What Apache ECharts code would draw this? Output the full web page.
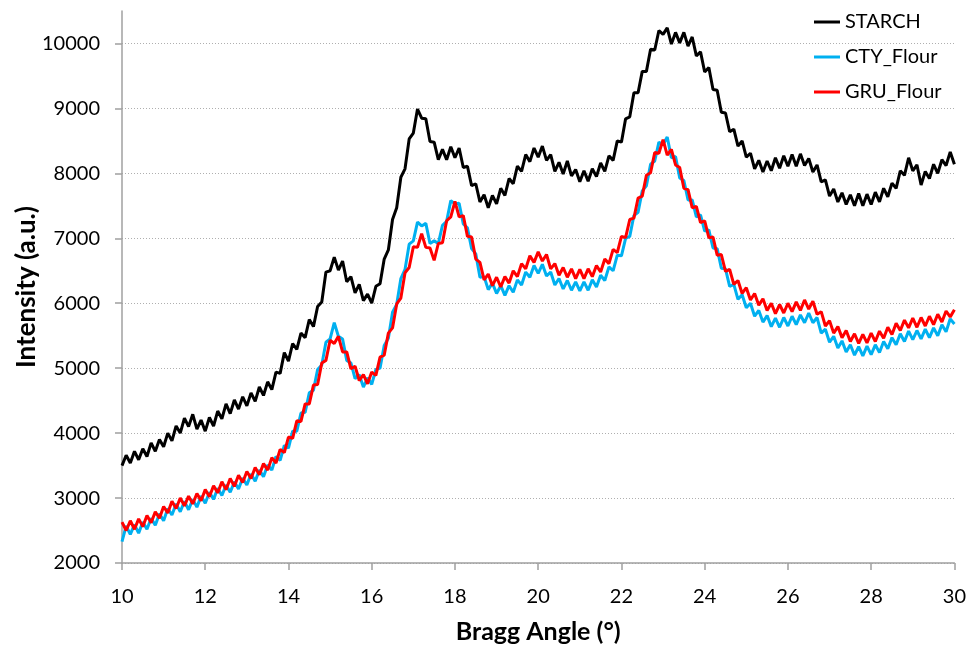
<!DOCTYPE html>
<html>
<head>
<meta charset="utf-8">
<title>XRD patterns</title>
<script src="https://cdn.jsdelivr.net/npm/echarts@6/dist/echarts.min.js"></script>
<style>
  html, body { margin: 0; padding: 0; background: #ffffff; }
  #chart { width: 969px; height: 649px; }
</style>
</head>
<body>
<div id="chart"></div>
<script>
// Diffraction angle grid (degrees 2θ), sampled every 0.1°
const angleStart = 10;
const angleStep = 0.1;

const seriesNames = ['STARCH', 'CTY_Flour', 'GRU_Flour'];

// Intensities (a.u.), one value per 0.1° from 10° to 30°
const starch = [
  3500, 3660, 3540, 3720, 3590, 3760, 3640, 3850, 3720, 3900,
  3790, 4000, 3880, 4110, 4000, 4230, 4100, 4290, 4060, 4200,
  4030, 4240, 4110, 4340, 4220, 4450, 4300, 4510, 4370, 4560,
  4420, 4620, 4490, 4710, 4580, 4790, 4670, 4940, 4920, 5240,
  5110, 5380, 5290, 5540, 5470, 5750, 5640, 5950, 6020, 6480,
  6500, 6710, 6510, 6650, 6330, 6410, 6160, 6290, 6040, 6140,
  6000, 6260, 6300, 6680, 6820, 7290, 7470, 7940, 8070, 8530,
  8620, 8990, 8850, 8840, 8490, 8480, 8210, 8370, 8210, 8410,
  8240, 8390, 8090, 8110, 7810, 7840, 7560, 7670, 7470, 7660,
  7530, 7770, 7660, 7920, 7840, 8110, 8030, 8290, 8180, 8390,
  8250, 8420, 8200, 8290, 8030, 8170, 7990, 8190, 7960, 8060,
  7870, 8040, 7880, 8070, 7950, 8160, 8030, 8270, 8200, 8500,
  8480, 8840, 8870, 9240, 9240, 9570, 9570, 9910, 9900, 10200,
  10140, 10240, 9990, 10170, 10010, 10170, 9960, 10100, 9810, 9870,
  9560, 9630, 9290, 9280, 8940, 8930, 8640, 8680, 8420, 8500,
  8250, 8310, 8070, 8200, 8020, 8190, 8040, 8240, 8080, 8270,
  8110, 8290, 8110, 8300, 8120, 8230, 8020, 8130, 7870, 7900,
  7650, 7760, 7560, 7700, 7520, 7670, 7500, 7690, 7500, 7680,
  7520, 7710, 7560, 7770, 7640, 7850, 7770, 8040, 7970, 8240,
  8040, 8130, 7820, 8030, 7920, 8140, 8000, 8210, 8120, 8330,
  8140
];

const ctyFlour = [
  2330, 2570, 2440, 2590, 2460, 2630, 2520, 2690, 2580, 2760,
  2650, 2840, 2740, 2910, 2790, 2950, 2820, 2980, 2860, 3030,
  2920, 3090, 2980, 3150, 3040, 3200, 3090, 3250, 3140, 3310,
  3200, 3370, 3260, 3430, 3330, 3510, 3430, 3640, 3580, 3810,
  3770, 4030, 4030, 4310, 4320, 4620, 4660, 4980, 5050, 5400,
  5450, 5700, 5490, 5450, 5120, 5080, 4840, 4900, 4710, 4850,
  4750, 4980, 5000, 5350, 5460, 5860, 5980, 6380, 6520, 6910,
  6960, 7250, 7190, 7230, 6920, 6960, 6920, 7200, 7260, 7580,
  7530, 7540, 7220, 7160, 6840, 6760, 6400, 6410, 6210, 6310,
  6150, 6270, 6120, 6270, 6170, 6360, 6280, 6480, 6400, 6580,
  6460, 6600, 6420, 6480, 6280, 6380, 6220, 6350, 6200, 6330,
  6190, 6330, 6200, 6360, 6250, 6430, 6350, 6560, 6500, 6740,
  6730, 7000, 7030, 7350, 7400, 7730, 7810, 8140, 8190, 8480,
  8440, 8560, 8240, 8260, 7930, 7890, 7590, 7590, 7330, 7360,
  7110, 7130, 6850, 6840, 6540, 6530, 6260, 6290, 6060, 6130,
  5930, 6000, 5800, 5890, 5710, 5810, 5640, 5770, 5630, 5780,
  5650, 5800, 5670, 5820, 5700, 5850, 5700, 5780, 5540, 5600,
  5400, 5490, 5310, 5420, 5250, 5360, 5200, 5330, 5190, 5340,
  5210, 5360, 5240, 5410, 5300, 5470, 5360, 5530, 5410, 5570,
  5440, 5580, 5450, 5600, 5470, 5620, 5500, 5670, 5560, 5760,
  5680
];

const gruFlour = [
  2630, 2500, 2650, 2520, 2680, 2560, 2730, 2620, 2790, 2690,
  2870, 2770, 2950, 2840, 3000, 2880, 3030, 2910, 3070, 2960,
  3130, 3020, 3190, 3080, 3250, 3130, 3300, 3180, 3350, 3240,
  3410, 3300, 3470, 3360, 3530, 3430, 3620, 3540, 3750, 3700,
  3940, 3920, 4190, 4180, 4450, 4450, 4740, 4750, 5080, 5120,
  5430, 5380, 5490, 5250, 5250, 4990, 5030, 4810, 4900, 4760,
  4940, 4890, 5170, 5200, 5540, 5620, 5990, 6080, 6470, 6550,
  6870, 6860, 7070, 6860, 6850, 6660, 6920, 6930, 7270, 7330,
  7570, 7330, 7350, 7030, 7020, 6680, 6630, 6360, 6450, 6270,
  6400, 6250, 6410, 6310, 6500, 6410, 6610, 6530, 6730, 6630,
  6790, 6650, 6750, 6530, 6610, 6430, 6550, 6400, 6530, 6380,
  6520, 6380, 6530, 6410, 6580, 6480, 6680, 6610, 6830, 6780,
  7030, 7010, 7290, 7310, 7620, 7650, 7970, 8010, 8320, 8310,
  8520, 8280, 8370, 8130, 8090, 7770, 7750, 7470, 7490, 7240,
  7270, 7010, 7020, 6740, 6750, 6490, 6520, 6290, 6350, 6150,
  6240, 6050, 6150, 5970, 6070, 5890, 6000, 5840, 5980, 5850,
  6000, 5870, 6020, 5890, 6050, 5910, 6030, 5830, 5870, 5650,
  5730, 5540, 5640, 5470, 5580, 5410, 5530, 5380, 5520, 5390,
  5540, 5410, 5570, 5460, 5630, 5520, 5690, 5580, 5740, 5620,
  5770, 5630, 5780, 5650, 5800, 5670, 5830, 5710, 5880, 5790,
  5900
];

// Axis ticks
const xTicks = [10, 12, 14, 16, 18, 20, 22, 24, 26, 28, 30];
const yTicks = [2000, 3000, 4000, 5000, 6000, 7000, 8000, 9000, 10000];

const seriesColors = ['#000000', '#00B0F0', '#FF0000'];

function toPairs(values) {
  return values.map((v, i) => [+(angleStart + i * angleStep).toFixed(2), v]);
}

const font = 'Lato, "Open Sans", "DejaVu Sans", sans-serif';
const axisGrey = '#A0A0A0';

const chart = echarts.init(document.getElementById('chart'), null, { renderer: 'canvas' });

chart.setOption({
  animation: false,
  backgroundColor: '#ffffff',
  textStyle: { fontFamily: font },
  grid: { left: 122, right: 14, top: 11, bottom: 86, containLabel: false },
  legend: {
    orient: 'vertical',
    left: 814,
    top: 12,
    padding: 0,
    icon: 'rect',
    itemWidth: 26,
    itemHeight: 3,
    itemGap: 15,
    data: seriesNames,
    textStyle: { fontFamily: font, fontSize: 20, color: '#000', lineHeight: 20 }
  },
  xAxis: {
    type: 'value',
    min: xTicks[0],
    max: xTicks[xTicks.length - 1],
    interval: 2,
    name: 'Bragg Angle (°)',
    nameLocation: 'middle',
    nameGap: 56,
    nameMoveOverlap: false,
    nameTextStyle: { fontFamily: font, fontSize: 25, fontWeight: 'bold', color: '#000' },
    axisLine: { show: true, lineStyle: { color: axisGrey, width: 1.5 } },
    axisTick: { show: true, inside: false, length: 7, lineStyle: { color: axisGrey, width: 1.5 } },
    axisLabel: { fontFamily: font, fontSize: 20, color: '#000', margin: 24 },
    splitLine: { show: false }
  },
  yAxis: {
    type: 'value',
    min: yTicks[0],
    max: 10500,
    interval: 1000,
    name: 'Intensity (a.u.)',
    nameLocation: 'middle',
    nameGap: 82,
    nameMoveOverlap: false,
    nameTextStyle: { fontFamily: font, fontSize: 26, fontWeight: 'bold', color: '#000' },
    axisLine: { show: true, lineStyle: { color: axisGrey, width: 1.5 } },
    axisTick: { show: true, inside: false, length: 7, customValues: yTicks, lineStyle: { color: axisGrey, width: 1.5 } },
    axisLabel: {
      fontFamily: font, fontSize: 20, color: '#000', margin: 22,
      customValues: yTicks,
      formatter: (v) => String(v)
    },
    splitLine: {
      show: true,
      lineStyle: {
        color: yTicks.map(() => '#AFAFAF').concat(['rgba(0,0,0,0)']),
        width: 1,
        type: [1, 2]
      }
    }
  },
  series: seriesNames.map((name, k) => ({
    name: name,
    type: 'line',
    data: toPairs([starch, ctyFlour, gruFlour][k]),
    showSymbol: false,
    symbol: 'none',
    color: seriesColors[k],
    lineStyle: { color: seriesColors[k], width: 3 },
    emphasis: { disabled: true }
  }))
});
</script>
</body>
</html>
